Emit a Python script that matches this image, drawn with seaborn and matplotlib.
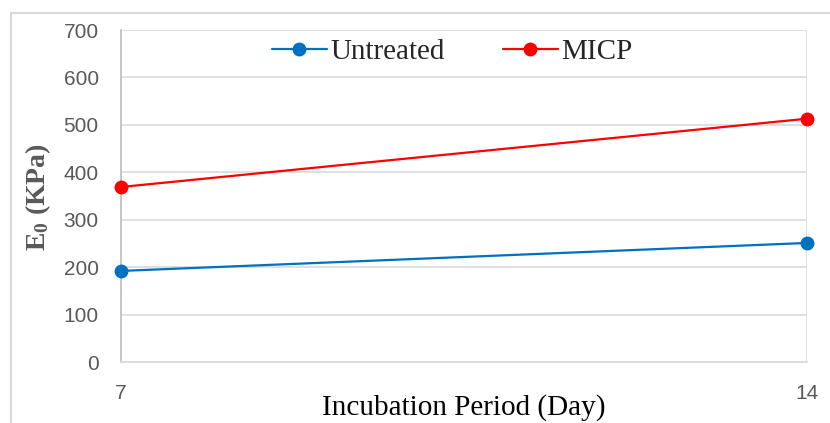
import pandas as pd
import matplotlib.pyplot as plt
import seaborn as sns
from matplotlib.patches import Rectangle

days = [7, 14]
untreated = [192, 251]
micp = [369, 513]
series_names = ['Untreated', 'MICP']

df = pd.DataFrame({
    'Day': days * 2,
    'E0': untreated + micp,
    'Series': [series_names[0]] * len(days) + [series_names[1]] * len(days),
})

sns.set_style('white')
plt.rcParams['mathtext.fontset'] = 'custom'
plt.rcParams['mathtext.rm'] = 'Liberation Serif'
plt.rcParams['mathtext.bf'] = 'Liberation Serif:bold'

fig = plt.figure(figsize=(8.3, 4.23), dpi=100)
ax = fig.add_axes([121 / 830, 1 - 362 / 423, (807 - 121) / 830, (362 - 30) / 423])

# outer chart-area border (cut off at right/bottom)
fig.patches.append(Rectangle((11 / 830, -0.1), 1.2, 1 - 13 / 423 + 0.1,
                             transform=fig.transFigure, fill=False,
                             edgecolor='#d9d9d9', linewidth=1.5, zorder=0))

palette = {'Untreated': '#0070C0', 'MICP': '#FF0000'}
sns.lineplot(data=df, x='Day', y='E0', hue='Series', palette=palette,
             marker='o', markersize=10, markeredgewidth=0, linewidth=1.6,
             ax=ax, zorder=3, clip_on=False)

ax.set_xlim(7, 14)
ax.set_ylim(0, 700)
ax.set_xticks([7, 14])
ax.set_yticks(range(0, 701, 100))
ax.grid(True, color='#d9d9d9', linewidth=1.2)
for s in ['top', 'right']:
    ax.spines[s].set_visible(False)
ax.spines['left'].set_color('#bfbfbf')
ax.spines['bottom'].set_color('#d9d9d9')
ax.spines['left'].set_linewidth(1.2)
ax.spines['bottom'].set_linewidth(1.2)

ax.tick_params(axis='y', length=0, pad=16, labelsize=15, labelcolor='#595959')
ax.tick_params(axis='x', length=0, pad=16, labelsize=15, labelcolor='#595959')
for lbl in ax.get_xticklabels() + ax.get_yticklabels():
    lbl.set_family('Liberation Sans')

ax.set_xlabel('Incubation Period (Day)', family='Liberation Serif',
              fontsize=21, color='black')
ax.xaxis.set_label_coords(0.5, (362 - 394) / 332)
ax.set_ylabel(r'$\mathbf{E_0}$ (KPa)', family='Liberation Serif',
              fontsize=20, color='#595959', fontweight='bold')
ax.yaxis.set_label_coords((53 - 121) / 686, (362 - 197) / 332)

handles, labels = ax.get_legend_handles_labels()
ax.legend(handles, labels, loc='center',
          bbox_to_anchor=((452 - 121) / 686, (362 - 52) / 332),
          ncol=2, frameon=False, prop={'family': 'Liberation Serif', 'size': 21},
          handlelength=1.9, columnspacing=2.0, handletextpad=0.1,
          borderpad=0.1)

fig.savefig('out.png', dpi=100)
